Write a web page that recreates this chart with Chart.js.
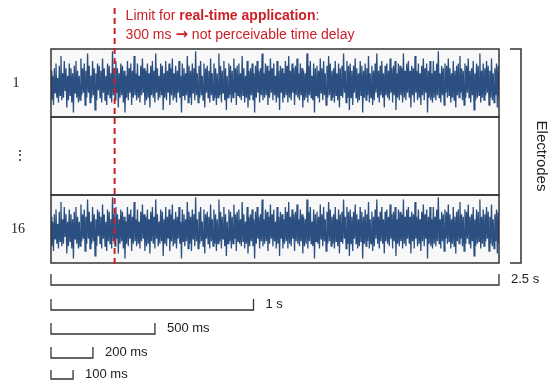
<!DOCTYPE html>
<html>
<head>
<meta charset="utf-8">
<script src="https://cdn.jsdelivr.net/npm/chart.js@4/dist/chart.umd.min.js"></script>
<style>
  html, body { margin: 0; padding: 0; background: #fff; }
  #wrap { width: 554px; height: 386px; }
</style>
</head>
<body>
<div id="wrap"><canvas id="eegChart" width="554" height="386"></canvas></div>
<script>
// recording length (s) and the readable annotations
const duration = 2.5;
const limitTime = 0.355;            // red dashed line position (drawn "300 ms")
const scaleBarLabels = ["2.5 s", "1 s", "500 ms", "200 ms", "100 ms"];
const scaleBarEnds = [2.5, 1.13, 0.58, 0.234, 0.123];
const electrodeLabels = ["1", "\u22EE", "16"];

// electrode trace (same trace shown for 1 and 16)
const electrode1 = [
  5,-7,3,-9,6,-4,8,-6,2,-8,7,-5,11,-7,4,-6,9,-3,6,-10,
  3,-7,8,-5,6,-8,4,-12,7,-4,9,-6,5,-8,3,-7,10,-5,6,-4,
  8,-9,5,-6,12,-4,7,-8,3,-6,9,-5,6,-11,4,-7,8,-3,7,-6,
  5,-8,10,-4,6,-7,3,-9,8,-5,7,-6,4,-8,13,-5,6,-7,9,-4,
  6,-10,4,-6,8,-5,7,-8,5,-12,3,-6,9,-7,6,-4,8,-9,5,-6,
  11,-5,4,-7,8,-6,3,-8,7,-5,10,-4,6,-9,5,-7,8,-6,4,-10,
  7,-5,9,-6,5,-8,12,-4,6,-7,3,-6,8,-5,7,-11,4,-6,9,-7,
  5,-4,8,-9,6,-5,10,-7,4,-6,7,-8,5,-4,9,-6,3,-12,8,-5,
  6,-7,4,-5,11,-8,7,-6,5,-9,8,-4,6,-7,13,-5,4,-8,7,-6,
  9,-5,3,-7,8,-10,6,-4,7,-6,5,-8,10,-5,4,-7,8,-6,6,-9,
  4,-6,12,-5,7,-8,5,-4,9,-7,6,-11,3,-6,8,-5,7,-8,5,-6,
  10,-4,6,-9,7,-5,8,-6,4,-7,11,-5,6,-8,3,-6,9,-10,5,-7,
  6,-5,8,-7,4,-12,7,-6,9,-4,5,-8,6,-5,12,-7,4,-6,8,-5,
  7,-9,5,-6,10,-4,6,-7,8,-5,3,-8,9,-6,5,-11,7,-4,6,-8,
  4,-6,9,-5,7,-8,11,-6,5,-7,8,-4,6,-9,7,-5,10,-6,4,-7,
  8,-5,6,-10,5,-7,4,-6,12,-8,7,-5,9,-6,3,-7,8,-12,6,-5,
  7,-6,5,-8,10,-4,6,-7,9,-5,4,-9,7,-6,11,-5,8,-7,5,-6,
  6,-8,9,-5,4,-7,8,-10,6,-5,7,-6,12,-4,5,-8,9,-6,7,-11,
  8,-6,5,-9,7,-4,10,-6,6,-8,4,-7,9,-5,7,-12,5,-6,8,-7,
  6,-5,11,-8,4,-6,7,-9,5,-7,8,-4,12,-6,5,-8,7,-5,9,-6,
  4,-10,7,-5,8,-6,5,-7,10,-4,6,-8,7,-5,9,-11,4,-6,8,-7,
  7,-5,6,-8,12,-6,5,-7,8,-4,9,-6,5,-10,7,-5,6,-8,11,-4,
  5,-7,8,-6,4,-9,7,-5,10,-7,6,-4,8,-12,5,-6,9,-7,4,-8,
  9,-6,5,-7,8,-5,13,-6,4,-8,7,-5,6,-9,8,-4,7,-6,10,-5,
  6,-8,4,-6,9,-7,5,-10,7,-5,8,-6,11,-4,6,-7,5,-9,8,-6,
  7,-4,10,-6,5,-8,6,-5,9,-11,4,-7,8,-6,7,-5,12,-8,5,-6,
  8,-7,6,-5,9,-4,7,-9,5,-6,10,-7,4,-8,6,-5,8,-10,7,-6
];
const electrode16 = electrode1;

// half height of a trace panel and the whole view, in trace units
const panelHalf = 13.88;
const viewSpan = 87.35;

const toPoints = arr => arr.map((v, i) => ({ x: i * duration / (arr.length - 1), y: v }));

const traceColor = "#2b4f80";
const redColor = "#cc1f27";
const sans = "'Liberation Sans', Arial, Helvetica, sans-serif";
const serif = "'Liberation Serif', 'Times New Roman', serif";

const panelsPlugin = {
  id: "panels",
  beforeDatasetsDraw(chart) {
    const { ctx, chartArea, scales } = chart;
    const topBottom = scales.y1.getPixelForValue(-panelHalf);
    const botTop = scales.y16.getPixelForValue(panelHalf);
    ctx.save();
    ctx.fillStyle = "#f8f8f8";
    ctx.fillRect(chartArea.left, chartArea.top, chartArea.width, topBottom - chartArea.top);
    ctx.fillRect(chartArea.left, botTop, chartArea.width, chartArea.bottom - botTop);
    ctx.restore();
  },
  afterDatasetsDraw(chart) {
    const { ctx, chartArea, scales } = chart;
    const x = scales.x;
    const L = chartArea.left, R = chartArea.right, T = chartArea.top, B = chartArea.bottom;
    const topBottom = scales.y1.getPixelForValue(-panelHalf);
    const botTop = scales.y16.getPixelForValue(panelHalf);
    ctx.save();

    // panel frames
    ctx.strokeStyle = "#333";
    ctx.lineWidth = 1.5;
    ctx.strokeRect(L, T, R - L, topBottom - T);
    ctx.strokeRect(L, topBottom, R - L, botTop - topBottom);
    ctx.strokeRect(L, botTop, R - L, B - botTop);

    // electrodes bracket
    ctx.beginPath();
    ctx.moveTo(R + 11, T);
    ctx.lineTo(R + 22, T);
    ctx.lineTo(R + 22, B);
    ctx.lineTo(R + 11, B);
    ctx.stroke();

    ctx.fillStyle = "#222";
    ctx.font = "15px " + sans;
    ctx.textAlign = "center";
    ctx.textBaseline = "middle";
    ctx.save();
    ctx.translate(R + 42, (T + B) / 2);
    ctx.rotate(Math.PI / 2);
    ctx.fillText("Electrodes", 0, 0);
    ctx.restore();

    // electrode labels
    ctx.font = "14px " + serif;
    ctx.fillText(electrodeLabels[0], 16, scales.y1.getPixelForValue(0));
    ctx.fillText(electrodeLabels[1], 20, (topBottom + botTop) / 2);
    ctx.fillText(electrodeLabels[2], 18, scales.y16.getPixelForValue(0));

    // scale bars
    const barY = [285, 310, 334, 358, 379];
    const tickH = [11, 11, 11, 11, 9];
    ctx.strokeStyle = "#333";
    ctx.lineWidth = 1.3;
    ctx.font = "13px " + sans;
    ctx.textAlign = "left";
    scaleBarEnds.forEach((end, i) => {
      const x0 = x.getPixelForValue(0), x1 = x.getPixelForValue(end);
      const y = barY[i];
      ctx.beginPath();
      ctx.moveTo(x0, y - tickH[i]);
      ctx.lineTo(x0, y);
      ctx.lineTo(x1, y);
      ctx.lineTo(x1, y - tickH[i]);
      ctx.stroke();
      ctx.fillText(scaleBarLabels[i], x1 + 12, y - tickH[i] / 2);
    });

    // real-time limit
    const xl = x.getPixelForValue(limitTime);
    ctx.strokeStyle = redColor;
    ctx.lineWidth = 2;
    ctx.setLineDash([6, 4]);
    ctx.beginPath();
    ctx.moveTo(xl, 8);
    ctx.lineTo(xl, B + 2);
    ctx.stroke();
    ctx.setLineDash([]);

    ctx.fillStyle = redColor;
    let tx = xl + 11;
    ctx.font = "14px " + sans;
    ctx.fillText("Limit for ", tx, 16);
    tx += ctx.measureText("Limit for ").width;
    ctx.font = "bold 14px " + sans;
    ctx.fillText("real-time application", tx, 16);
    tx += ctx.measureText("real-time application").width;
    ctx.font = "14px " + sans;
    ctx.fillText(":", tx, 16);
    tx = xl + 11;
    ctx.fillText("300 ms ", tx, 35);
    tx += ctx.measureText("300 ms ").width;
    ctx.font = "bold 15px 'DejaVu Sans', sans-serif";
    ctx.fillText("\u2192", tx, 35);
    tx += ctx.measureText("\u2192").width;
    ctx.font = "14px " + sans;
    ctx.fillText(" not perceivable time delay", tx, 35);

    ctx.restore();
  }
};

new Chart(document.getElementById("eegChart"), {
  type: "line",
  data: {
    datasets: [
      {
        label: "Electrode 1",
        data: toPoints(electrode1),
        yAxisID: "y1",
        borderColor: traceColor,
        borderWidth: 1.3,
        pointRadius: 0,
        tension: 0
      },
      {
        label: "Electrode 16",
        data: toPoints(electrode16),
        yAxisID: "y16",
        borderColor: traceColor,
        borderWidth: 1.3,
        pointRadius: 0,
        tension: 0
      }
    ]
  },
  options: {
    responsive: false,
    animation: false,
    layout: { padding: { left: 51, right: 55, top: 49, bottom: 123 } },
    plugins: { legend: { display: false }, tooltip: { enabled: false } },
    scales: {
      x: { type: "linear", min: 0, max: duration, display: false },
      y1: { min: panelHalf - viewSpan, max: panelHalf, display: false },
      y16: { min: -panelHalf, max: viewSpan - panelHalf, display: false }
    }
  },
  plugins: [panelsPlugin]
});
</script>
</body>
</html>
